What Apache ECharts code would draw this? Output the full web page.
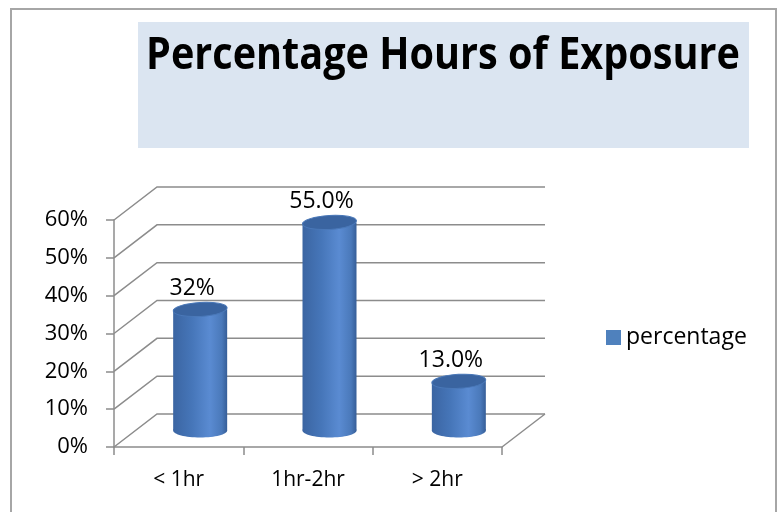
<!DOCTYPE html>
<html>
<head>
<meta charset="utf-8">
<script src="https://cdn.jsdelivr.net/npm/echarts@6/dist/echarts.min.js"></script>
<style>
  html, body { margin: 0; padding: 0; background: #fff; }
  #main { width: 781px; height: 512px; }
</style>
</head>
<body>
<div id="main"></div>
<script>
var categories = ['< 1hr', '1hr-2hr', '> 2hr'];
var values = [32, 55, 13];
var valueLabels = ['32%', '55.0%', '13.0%'];
var yTicks = [0, 10, 20, 30, 40, 50, 60];

// depth of the fake 3d wall
var DX = 43, DY = -33;
var FONT = '"Open Sans", "Noto Sans", sans-serif';

var myChart = echarts.init(document.getElementById('main'));

function renderWall(params, api) {
    var cs = params.coordSys;
    var y = api.coord([0, api.value(1)])[1];
    var children = [{
        type: 'polyline',
        shape: { points: [[cs.x, y], [cs.x + DX, y + DY], [cs.x + cs.width + DX, y + DY]] },
        style: { stroke: '#8c8c8c', lineWidth: 1.5, fill: null }
    }];
    if (api.value(1) === 0) {
        children.push({
            type: 'line',
            shape: { x1: cs.x + cs.width, y1: y, x2: cs.x + cs.width + DX, y2: y + DY },
            style: { stroke: '#8c8c8c', lineWidth: 1.5 }
        });
    }
    return { type: 'group', children: children };
}

function renderCylinder(params, api) {
    var i = api.value(0);
    var top = api.coord([i, api.value(1)]);
    var base = api.coord([i, 0]);
    var cx = top[0] + DX / 2;
    var yTop = top[1] + DY / 2;
    var yBase = base[1] + DY / 2;
    var rx = 27, ry = 7;
    var body = new echarts.graphic.LinearGradient(0, 0, 1, 0, [
        { offset: 0, color: '#3b65a2' },
        { offset: 0.35, color: '#4676b9' },
        { offset: 0.68, color: '#5a8bd2' },
        { offset: 0.9, color: '#4a79ba' },
        { offset: 1, color: '#365e98' }
    ]);
    return {
        type: 'group',
        children: [
            { type: 'ellipse', shape: { cx: cx, cy: yBase, rx: rx, ry: ry }, style: { fill: body } },
            { type: 'rect', shape: { x: cx - rx, y: yTop, width: rx * 2, height: yBase - yTop }, style: { fill: body } },
            {
                type: 'ellipse', shape: { cx: cx, cy: yTop, rx: rx, ry: ry },
                rotation: 0.06, originX: cx, originY: yTop,
                style: { fill: '#3a64a0', stroke: '#4a78b8', lineWidth: 1 }
            },
            {
                type: 'text',
                style: {
                    text: valueLabels[i], x: cx - 8, y: yTop - 21,
                    align: 'center', verticalAlign: 'middle',
                    font: '23px ' + FONT, fill: '#000'
                }
            }
        ]
    };
}

myChart.setOption({
    animation: false,
    graphic: [
        { type: 'rect', shape: { x: 11, y: 9, width: 765, height: 530 }, style: { fill: null, stroke: '#a6a6a6', lineWidth: 2 }, z: 0 },
        { type: 'rect', shape: { x: 138, y: 22, width: 611, height: 126 }, style: { fill: '#dbe5f1' }, z: 1 },
        {
            type: 'text', x: 443, y: 56, z: 2, scaleX: 0.88,
            style: { text: 'Percentage Hours of Exposure', align: 'center', verticalAlign: 'middle',
                     font: 'bold 45px ' + FONT, fill: '#000' }
        }
    ],
    legend: {
        data: [{ name: 'percentage', icon: 'rect' }],
        left: 606,
        top: 326,
        padding: 0,
        itemWidth: 15,
        itemHeight: 15,
        itemGap: 7,
        textStyle: { fontSize: 23, fontFamily: FONT, color: '#000' }
    },
    grid: {
        left: 114,
        right: 279,
        top: 220,
        bottom: 65
    },
    xAxis: {
        type: 'category',
        data: categories,
        axisLine: { lineStyle: { color: '#8c8c8c', width: 1.5 } },
        axisTick: { show: true, length: 8, lineStyle: { color: '#8c8c8c', width: 1.5 } },
        axisLabel: { color: '#000', fontSize: 21, fontFamily: FONT, margin: 23 },
        splitLine: { show: false }
    },
    yAxis: {
        type: 'value',
        min: 0,
        max: 60,
        interval: 10,
        axisLine: { show: true, lineStyle: { color: '#8c8c8c', width: 1.5 } },
        axisTick: { show: true, length: 8, lineStyle: { color: '#8c8c8c', width: 1.5 } },
        axisLabel: { color: '#000', fontSize: 22, fontFamily: FONT, margin: 26, formatter: '{value}%' },
        splitLine: { show: false }
    },
    series: [
        {
            name: 'wall',
            type: 'custom',
            renderItem: renderWall,
            data: yTicks.map(function (v) { return [0, v]; }),
            silent: true,
            z: 1
        },
        {
            name: 'percentage',
            type: 'custom',
            renderItem: renderCylinder,
            itemStyle: { color: '#4f81bd' },
            data: values.map(function (v, i) { return [i, v]; }),
            z: 3
        }
    ]
});
</script>
</body>
</html>
